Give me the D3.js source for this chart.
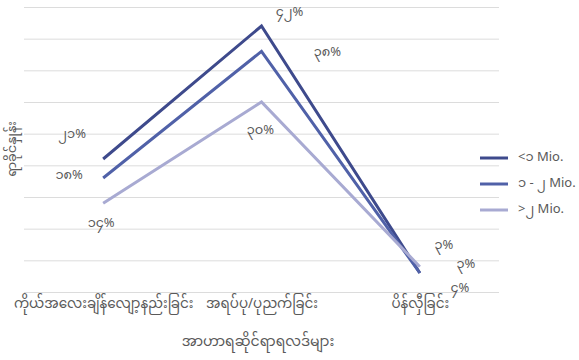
<!DOCTYPE html>
<html>
<head>
<meta charset="utf-8">
<script src="https://cdn.jsdelivr.net/npm/d3@7/dist/d3.min.js"></script>
<style>
  html, body { margin: 0; padding: 0; background: #ffffff; }
  svg { display: block; }
  text { font-family: "Noto Sans Myanmar", "Padauk", "Myanmar Text", "Noto Sans", sans-serif; fill: #595959; }
</style>
</head>
<body>
<svg id="chart" width="579" height="360"></svg>
<script>
// Nutrition outcomes by income group (share of children, %)
const categories = [
  "ကိုယ်အလေးချိန်လျော့နည်းခြင်း",
  "အရပ်ပု/ပုညက်ခြင်း",
  "ပိန်လှီခြင်း"
];
const seriesNames = ["<၁ Mio.", "၁ - ၂ Mio.", ">၂ Mio."];
const lowIncome = [21, 42, 3];
const midIncome = [18, 38, 3];
const highIncome = [14, 30, 4];
const yTicks = [0, 5, 10, 15, 20, 25, 30, 35, 40, 45];
const xTitle = "အာဟာရဆိုင်ရာရလဒ်များ";
const yTitle = "ရာခိုင်နှုန်း";

const seriesValues = [lowIncome, midIncome, highIncome];
const colors = ["#3e4a8c", "#5061a8", "#a8aad2"];

// Myanmar digits for the data labels
const mmDigits = "၀၁၂၃၄၅၆၇၈၉";
const toMM = v => String(v).replace(/[0-9]/g, d => mmDigits[+d]);

const svg = d3.select("#chart");
const plot = { left: 24, right: 499, top: 7, bottom: 292 };

const x = d3.scalePoint()
  .domain(categories)
  .range([plot.left, plot.right])
  .padding(0.5);

const y = d3.scaleLinear()
  .domain([0, 45])
  .range([plot.bottom, plot.top]);

// Horizontal gridlines
const grid = d3.axisLeft(y)
  .tickValues(yTicks)
  .tickSize(-(plot.right - plot.left))
  .tickFormat("");
svg.append("g")
  .attr("transform", `translate(${plot.left},0)`)
  .call(grid)
  .call(g => g.select(".domain").remove())
  .call(g => g.selectAll("line").attr("stroke", "#dcdcdc").attr("stroke-width", 1));

// Category axis labels
const xAxis = d3.axisBottom(x).tickSize(0).tickPadding(0);
svg.append("g")
  .attr("transform", `translate(0,${plot.bottom})`)
  .call(xAxis)
  .call(g => g.select(".domain").remove())
  .call(g => g.selectAll("text")
    .attr("y", 16)
    .attr("dy", 0)
    .style("font-size", "13.5px")
    .style("fill", "#595959"));

// Lines
const line = d3.line()
  .x((d, i) => x(categories[i]))
  .y(d => y(d));

seriesValues.forEach((vals, s) => {
  svg.append("path")
    .datum(vals)
    .attr("fill", "none")
    .attr("stroke", colors[s])
    .attr("stroke-width", 3)
    .attr("stroke-linejoin", "miter")
    .attr("d", line);
});

// Data label offsets from their points
const labelOffsets = [
  [[-31, -24], [28, -13], [24, -27]],
  [[-34, -2], [66, 2], [46, -8]],
  [[-2, 21], [-1, 29], [40, 22]]
];
seriesValues.forEach((vals, s) => {
  svg.append("g").selectAll("text")
    .data(vals)
    .join("text")
    .attr("x", (d, i) => x(categories[i]) + labelOffsets[s][i][0])
    .attr("y", (d, i) => y(d) + labelOffsets[s][i][1])
    .attr("text-anchor", "middle")
    .attr("dominant-baseline", "central")
    .style("font-size", "13px")
    .text(d => toMM(d) + "%");
});

// Axis titles
svg.append("text")
  .attr("x", 258)
  .attr("y", 346)
  .attr("text-anchor", "middle")
  .style("font-size", "14px")
  .text(xTitle);

svg.append("text")
  .attr("transform", "translate(16,149) rotate(-90)")
  .attr("text-anchor", "middle")
  .style("font-size", "13px")
  .text(yTitle);

// Legend
const legend = svg.append("g").attr("transform", "translate(480,158)");
seriesNames.forEach((name, s) => {
  const g = legend.append("g").attr("transform", `translate(0,${s * 26})`);
  g.append("line")
    .attr("x1", 0).attr("x2", 28)
    .attr("y1", 0).attr("y2", 0)
    .attr("stroke", colors[s])
    .attr("stroke-width", 3);
  g.append("text")
    .attr("x", 38)
    .attr("y", 0)
    .attr("dominant-baseline", "central")
    .style("font-size", "13px")
    .text(name);
});
</script>
</body>
</html>
